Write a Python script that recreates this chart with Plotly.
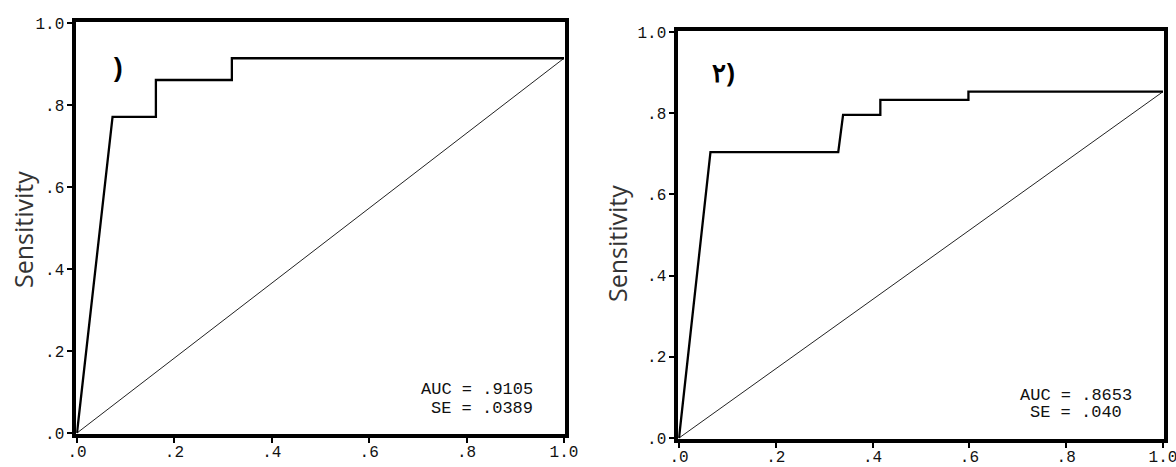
import plotly.graph_objects as go

# Panel 1 ROC (step curve)
roc1_fpr = [0.0, 0.073, 0.162, 0.162, 0.318, 0.318, 1.0]
roc1_tpr = [0.0, 0.771, 0.771, 0.861, 0.861, 0.914, 0.914]
ref1_x = [0.0, 1.0]
ref1_y = [0.0, 0.914]
auc1_lines = ["AUC = .9105", "SE = .0389"]
panel1_label = ")"

# Panel 2 ROC
roc2_fpr = [0.0, 0.065, 0.329, 0.339, 0.416, 0.416, 0.598, 0.598, 1.0]
roc2_tpr = [0.0, 0.704, 0.704, 0.796, 0.796, 0.833, 0.833, 0.853, 0.853]
ref2_x = [0.0, 1.0]
ref2_y = [0.0, 0.853]
auc2_lines = ["AUC = .8653", "SE = .040"]
panel2_label = "۲)"

tick_vals = [0, 0.2, 0.4, 0.6, 0.8, 1.0]
tick_text = [".0", ".2", ".4", ".6", ".8", "1.0"]
y_title = "Sensitivity"

W, H = 1176, 467
LW = 3.5  # frame line width
half = LW / 2

def frame(x0px, x1px, y0px, y1px, xzero, xunit, yzero, yunit):
    """Frame line centres in pixels plus the data->pixel mapping; keeps 0 and 1 inside the range."""
    dl = min(x0px + half, xzero - 0.8)
    dr = max(x1px - half, xzero + xunit + 0.8)
    dt = min(y0px + half, yzero - yunit - 0.8)
    db = max(y1px - half, yzero + 0.8)
    xdom = [dl / W, dr / W]
    ydom = [1 - db / H, 1 - dt / H]
    xr = [(dl - xzero) / xunit, (dr - xzero) / xunit]
    yr = [(yzero - db) / yunit, (yzero - dt) / yunit]
    return xdom, xr, ydom, yr

x1dom, x1r, y1dom, y1r = frame(76, 566, 23, 434, 77, 487, 433, 410)
x2dom, x2r, y2dom, y2r = frame(678, 1165, 32, 440, 679, 484, 438, 406)

fig = go.Figure()
fig.add_trace(go.Scatter(x=ref1_x, y=ref1_y, mode="lines", line=dict(color="#222", width=1),
                         xaxis="x", yaxis="y", showlegend=False))
fig.add_trace(go.Scatter(x=roc1_fpr, y=roc1_tpr, mode="lines", line=dict(color="black", width=2.3),
                         xaxis="x", yaxis="y", showlegend=False))
fig.add_trace(go.Scatter(x=ref2_x, y=ref2_y, mode="lines", line=dict(color="#222", width=1),
                         xaxis="x2", yaxis="y2", showlegend=False))
fig.add_trace(go.Scatter(x=roc2_fpr, y=roc2_tpr, mode="lines", line=dict(color="black", width=2.3),
                         xaxis="x2", yaxis="y2", showlegend=False))

tickfont = dict(family="Liberation Mono", size=16, color="#111")
axis_common = dict(showline=True, linecolor="black", linewidth=LW, mirror=True,
                   showgrid=False, zeroline=False, ticks="outside", ticklen=5,
                   tickwidth=1.5, tickcolor="black", tickvals=tick_vals, ticktext=tick_text,
                   tickfont=tickfont, fixedrange=True, automargin=False,
                   ticklabeloverflow="allow")

def ann(text, x, y, size, family, color="#111", xanchor="center", angle=0, bold=False):
    return dict(text=("<b>" + text + "</b>") if bold else text, x=x / W, y=1 - y / H,
                xref="paper", yref="paper", showarrow=False, xanchor=xanchor, yanchor="middle",
                textangle=angle, font=dict(family=family, size=size, color=color))

annotations = [
    ann(y_title, 23, 230, 25, "Open Sans", color="#333", angle=-90),
    ann(y_title, 617, 244, 25, "Open Sans", color="#333", angle=-90),
    ann(auc1_lines[0], 535, 389, 17, "Liberation Mono", xanchor="right"),
    ann(auc1_lines[1], 535, 408, 17, "Liberation Mono", xanchor="right"),
    ann(auc2_lines[0], 1076, 395, 17, "Liberation Mono"),
    ann(auc2_lines[1], 1076, 412, 17, "Liberation Mono"),
    ann(panel1_label, 118, 67, 28, "Noto Sans", color="black", bold=True),
    ann(panel2_label, 723, 72, 26, "Noto Sans", color="black", bold=True),
]

fig.update_layout(
    width=W, height=H,
    margin=dict(l=0, r=0, t=0, b=0, pad=0, autoexpand=False),
    paper_bgcolor="white", plot_bgcolor="white",
    xaxis=dict(**axis_common, domain=x1dom, range=x1r, anchor="y", ticklabelstandoff=-5),
    yaxis=dict(**axis_common, domain=y1dom, range=y1r, anchor="x"),
    xaxis2=dict(**axis_common, domain=x2dom, range=x2r, anchor="y2", ticklabelstandoff=-5),
    yaxis2=dict(**axis_common, domain=y2dom, range=y2r, anchor="x2"),
    annotations=annotations,
)

fig.write_html("out.html", config={"displayModeBar": False},
               post_script="document.body.style.margin='0';document.body.style.padding='0';")
